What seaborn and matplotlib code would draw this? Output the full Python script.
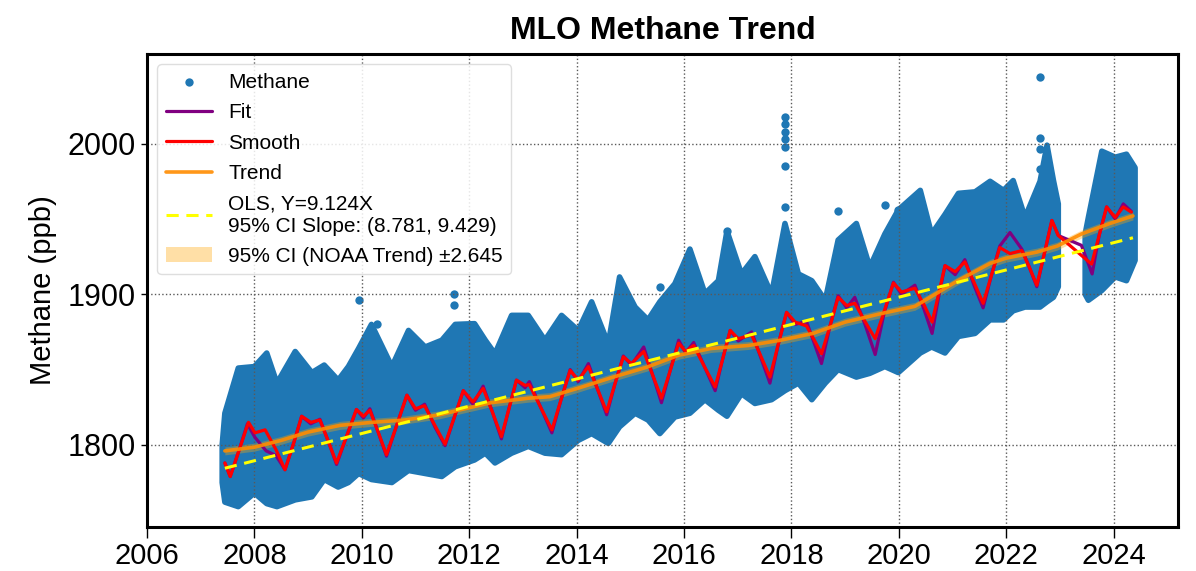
import numpy as np
import matplotlib
matplotlib.use("Agg")
import matplotlib.pyplot as plt
import seaborn as sns
from matplotlib.patches import Patch

# ---------------- data ----------------
# envelope of the dense hourly methane scatter (year, lower, upper)
env_t = [2007.40, 2007.45, 2007.70, 2008.00, 2008.23, 2008.42, 2008.76, 2009.07, 2009.30, 2009.56,
         2009.75, 2009.94, 2010.18, 2010.56, 2010.87, 2011.18, 2011.49, 2011.74, 2012.10, 2012.30,
         2012.48, 2012.79, 2013.10, 2013.41, 2013.72, 2014.03, 2014.28, 2014.59, 2014.80, 2015.09,
         2015.33, 2015.55, 2015.83, 2016.11, 2016.39, 2016.64, 2016.80, 2017.07, 2017.32, 2017.63,
         2017.88, 2018.13, 2018.38, 2018.63, 2018.87, 2019.21, 2019.46, 2019.74, 2019.99, 2020.40,
         2020.61, 2020.86, 2021.11, 2021.42, 2021.70, 2021.95, 2022.13, 2022.35, 2022.63, 2022.76,
         2022.88, 2022.97, 2023.20, 2023.47, 2023.53, 2023.78, 2024.03, 2024.24, 2024.40]
env_lo = [1775, 1762, 1759, 1768, 1761, 1759, 1763.5, 1765.5, 1777, 1772,
          1775, 1781, 1777, 1775, 1783, 1781, 1779, 1785.5, 1790, 1794.5,
          1788, 1794.5, 1799, 1794.5, 1793.5, 1803, 1807.5, 1801, 1812, 1821,
          1816.5, 1807.5, 1818.5, 1821, 1830, 1823, 1819, 1834, 1827.5, 1830,
          1836, 1841, 1830, 1841, 1850, 1845, 1847.5, 1852, 1848, 1861,
          1865, 1861, 1872, 1874, 1883, 1883, 1889, 1891.5, 1891.5, 1895,
          1898, 1905, float("nan"), 1900, 1896, 1902.5, 1911.5, 1909, 1922.5]
env_hi = [1800, 1821, 1851, 1852, 1861, 1841, 1862, 1848, 1853, 1843,
          1852, 1864, 1880, 1852, 1876, 1865, 1869.5, 1880, 1880.5, 1869.5,
          1860.5, 1886, 1886, 1869.5, 1886, 1876, 1895, 1867, 1911.5, 1891.5,
          1883, 1895, 1907, 1930, 1900.5, 1909, 1942, 1913.5, 1925, 1900,
          1947, 1913.5, 1909, 1896, 1936, 1947, 1918, 1940, 1956, 1969,
          1940, 1953, 1967, 1968, 1975, 1969, 1975.5, 1951, 1975, 1999,
          1975.5, 1960, float("nan"), 1940, 1951, 1995, 1991, 1993, 1984]

# isolated methane points standing out of the cloud
out_t = [2009.95, 2010.28, 2011.72, 2011.72, 2015.55, 2016.80, 2017.88, 2017.88, 2017.88,
         2017.88, 2017.88, 2017.88, 2017.88, 2018.87, 2019.74, 2019.99, 2022.63, 2022.63,
         2022.63, 2022.63]
out_v = [1896, 1880.5, 1900.5, 1893, 1905, 1942, 2018, 2013, 2008, 2003, 1998, 1985,
         1958, 1955.5, 1959, 1956, 2044, 2004, 1996.5, 1983]

# Smooth (red) curve
smooth_t = [2007.45, 2007.55, 2007.72, 2007.89, 2008.01, 2008.20, 2008.40, 2008.57, 2008.73, 2008.88,
            2009.05, 2009.22, 2009.38, 2009.53, 2009.72, 2009.90, 2010.03, 2010.15, 2010.31, 2010.46,
            2010.65, 2010.84, 2011.00, 2011.17, 2011.36, 2011.55, 2011.72, 2011.89, 2012.07, 2012.26,
            2012.43, 2012.60, 2012.74, 2012.88, 2013.04, 2013.12, 2013.33, 2013.54, 2013.71, 2013.88,
            2014.03, 2014.22, 2014.39, 2014.56, 2014.71, 2014.87, 2015.02, 2015.25, 2015.42, 2015.58,
            2015.74, 2015.90, 2016.03, 2016.18, 2016.38, 2016.58, 2016.72, 2016.86, 2017.01, 2017.26,
            2017.43, 2017.60, 2017.75, 2017.91, 2018.07, 2018.28, 2018.42, 2018.56, 2018.72, 2018.87,
            2019.03, 2019.18, 2019.37, 2019.56, 2019.73, 2019.90, 2020.05, 2020.30, 2020.47, 2020.62,
            2020.74, 2020.86, 2021.05, 2021.23, 2021.40, 2021.57, 2021.72, 2021.88, 2022.07, 2022.29,
            2022.43, 2022.57, 2022.71, 2022.85, 2022.97, 2023.59, 2023.73, 2023.87, 2024.03, 2024.18,
            2024.33]
smooth_v = [1788, 1779, 1797, 1815, 1808, 1810, 1797, 1783.5, 1801, 1819,
            1815, 1816.5, 1802, 1788, 1806, 1823.5, 1819, 1823, 1808, 1793.5,
            1813, 1833, 1824, 1826, 1813, 1800.5, 1818, 1836, 1828.5, 1837.5,
            1822, 1805.5, 1824, 1843, 1839.5, 1840, 1825, 1810, 1830, 1849.5,
            1843, 1852, 1837, 1822, 1840, 1858.5, 1854, 1862, 1846, 1831,
            1849, 1867.5, 1862, 1866, 1852, 1838.5, 1857, 1876, 1870.5, 1873,
            1859, 1845, 1866, 1888, 1881.5, 1879, 1870, 1860.5, 1879, 1898,
            1892.5, 1894, 1882, 1870.5, 1889, 1907.5, 1901.5, 1904, 1893, 1881.5,
            1900, 1919, 1915, 1921.5, 1908, 1894, 1912, 1931, 1927, 1929,
            1918, 1906, 1927, 1949, 1939, 1920, 1939, 1958, 1951, 1958,
            1954.5]

# Fit (purple) curve
fit_t = [2007.45, 2007.55, 2007.72, 2007.87, 2008.01, 2008.22, 2008.40, 2008.57, 2008.73, 2008.88,
         2009.05, 2009.22, 2009.38, 2009.53, 2009.72, 2009.90, 2010.03, 2010.15, 2010.31, 2010.46,
         2010.65, 2010.84, 2011.00, 2011.17, 2011.36, 2011.55, 2011.72, 2011.89, 2012.07, 2012.26,
         2012.43, 2012.60, 2012.74, 2012.88, 2013.04, 2013.12, 2013.33, 2013.54, 2013.71, 2013.88,
         2014.03, 2014.22, 2014.39, 2014.56, 2014.71, 2014.87, 2015.02, 2015.25, 2015.42, 2015.58,
         2015.74, 2015.90, 2016.03, 2016.18, 2016.38, 2016.58, 2016.72, 2016.86, 2017.01, 2017.26,
         2017.43, 2017.60, 2017.75, 2017.91, 2018.07, 2018.28, 2018.42, 2018.56, 2018.72, 2018.87,
         2019.03, 2019.18, 2019.37, 2019.56, 2019.73, 2019.90, 2020.05, 2020.30, 2020.47, 2020.62,
         2020.74, 2020.86, 2021.05, 2021.23, 2021.40, 2021.57, 2021.72, 2021.88, 2022.07, 2022.29,
         2022.43, 2022.57, 2022.71, 2022.85, 2022.97, 2023.40, 2023.60, 2023.73, 2023.87, 2024.03,
         2024.18, 2024.33]
fit_v = [1788, 1779, 1797, 1814, 1805, 1796, 1793, 1783.5, 1801, 1819,
         1814, 1817, 1802, 1787, 1806, 1823.5, 1818, 1824, 1808, 1792.5,
         1813, 1833, 1823, 1827, 1812, 1799.5, 1818, 1836, 1827, 1839,
         1822, 1804, 1824, 1843, 1838, 1842, 1825, 1808, 1830, 1850,
         1842, 1854, 1837, 1820, 1840, 1859, 1853, 1865, 1846, 1828,
         1849, 1869.5, 1861, 1868, 1852, 1836, 1857, 1876, 1869, 1875,
         1858, 1841, 1866, 1888, 1880, 1882, 1868, 1854, 1879, 1899,
         1891, 1898, 1880, 1860, 1888, 1908, 1900, 1906, 1890, 1874,
         1898, 1919, 1913, 1923, 1906, 1891, 1912, 1932, 1941, 1930,
         1918, 1905, 1927, 1949, 1939, 1932.5, 1913.5, 1939, 1958, 1950,
         1960, 1955]

# NOAA trend (orange)
trend_t = [2007.45, 2008.00, 2008.50, 2009.00, 2009.60, 2010.20, 2010.80, 2011.45, 2011.80, 2012.40,
           2013.10, 2013.50, 2014.06, 2014.68, 2015.30, 2015.90, 2016.50, 2017.20, 2017.80, 2018.40,
           2019.00, 2019.65, 2020.30, 2020.70, 2021.10, 2021.70, 2022.00, 2022.57, 2022.95, 2023.40,
           2023.93, 2024.36]
trend_v = [1796, 1798.5, 1803, 1808.5, 1813, 1815, 1816.5, 1820, 1823, 1828,
           1831, 1832, 1838, 1845, 1851.5, 1859.5, 1864, 1866, 1869.5, 1874,
           1881.5, 1887, 1892, 1900.5, 1909, 1920.5, 1924, 1928, 1932, 1940,
           1947, 1952]
trend_ci = 2.645

# OLS line end points
ols_t = [2007.45, 2024.36]
ols_v = [1784.5, 1937.5]

year_ticks = [2006, 2008, 2010, 2012, 2014, 2016, 2018, 2020, 2022, 2024]
ppb_ticks = [1800, 1900, 2000]

# ---------------- styling ----------------
sns.set_style("ticks")
plt.rcParams['font.family'] = ['Liberation Sans', 'DejaVu Sans']
plt.rcParams['axes.axisbelow'] = 'line'
for k in ['text.color', 'axes.labelcolor', 'xtick.color', 'ytick.color']:
    plt.rcParams[k] = 'black'

fig = plt.figure(figsize=(11.96, 5.71), dpi=100)
ax = fig.add_axes([0.1229, 0.0771, 0.8621, 0.8283])

blue = '#1f77b4'
ax.fill_between(env_t, env_lo, env_hi, color=blue, edgecolor=blue,
                linewidth=4, joinstyle='round', zorder=1)
sns.scatterplot(x=out_t, y=out_v, color=blue, s=36, linewidth=0, ax=ax, zorder=1,
                label='Methane')
h_meth = ax.collections[-1]

sns.lineplot(x=fit_t, y=fit_v, color='purple', linewidth=2.3, sort=False,
             estimator=None, ax=ax, label='Fit')
h_fit = ax.lines[-1]
sns.lineplot(x=smooth_t, y=smooth_v, color='red', linewidth=2.3, sort=False,
             estimator=None, ax=ax, label='Smooth')
h_smooth = ax.lines[-1]
sns.lineplot(x=trend_t, y=trend_v, color='darkorange', linewidth=2.6, alpha=0.9, sort=False,
             estimator=None, ax=ax, label='Trend')
h_trend = ax.lines[-1]
sns.lineplot(x=ols_t, y=ols_v, color='yellow', linewidth=2.2, linestyle='--',
             dashes=False, sort=False, estimator=None, ax=ax,
             label='OLS, Y=9.124X\n95% CI Slope: (8.781, 9.429)')
h_ols = ax.lines[-1]
h_ols.set_dashes([4, 2.5])
tv = np.array(trend_v)
ax.fill_between(trend_t, tv - trend_ci, tv + trend_ci, color='orange', alpha=0.35,
                linewidth=0, zorder=1.8)
h_ci = Patch(facecolor='orange', alpha=0.35, edgecolor='none')

ax.set_xlim(2006.0, 2025.2)
ax.set_ylim(1745.5, 2059.5)
ax.set_xticks(year_ticks)
ax.set_xticklabels([str(y) for y in year_ticks], fontsize=21)
ax.set_yticks(ppb_ticks)
ax.set_yticklabels([str(v) for v in ppb_ticks], fontsize=22)
ax.tick_params(axis='x', length=8, width=1, pad=3)
ax.tick_params(axis='y', length=4, width=1, pad=4)
ax.grid(True, linestyle=':', color='0.35', linewidth=1.0)
for s in ax.spines.values():
    s.set_visible(True)
    s.set_linewidth(2.2)
    s.set_color('black')

ax.set_xlabel('')
ax.set_ylabel('Methane (ppb)', fontsize=21, labelpad=8)
ax.set_title('MLO Methane Trend', fontsize=23, fontweight='bold', pad=11)

ax.legend(handles=[h_meth, h_fit, h_smooth, h_trend, h_ols, h_ci],
          labels=['Methane', 'Fit', 'Smooth', 'Trend',
                  'OLS, Y=9.124X\n95% CI Slope: (8.781, 9.429)',
                  '95% CI (NOAA Trend) \u00b12.645'],
          loc='upper left', fontsize=15, labelspacing=0.55, handlelength=2.2,
          framealpha=0.85, edgecolor='0.85', fancybox=True, scatterpoints=1)

fig.savefig('out.png', dpi=100)
